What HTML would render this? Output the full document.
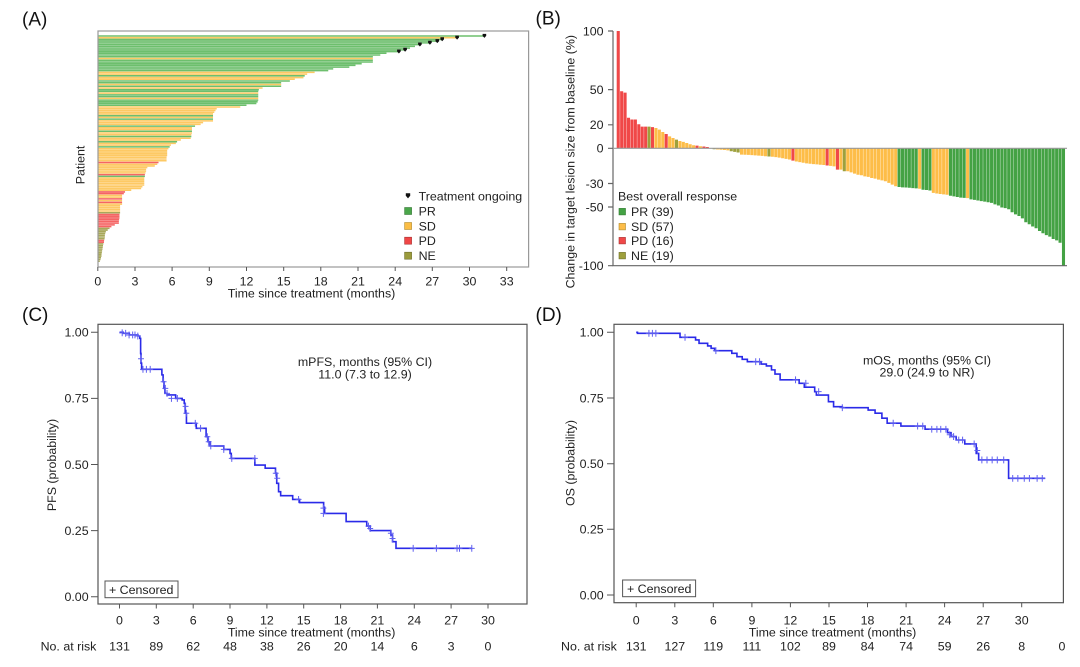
<!DOCTYPE html>
<html><head><meta charset="utf-8"><style>
html,body{margin:0;padding:0;background:#fff;}
svg{display:block;font-family:"Liberation Sans",Arial,sans-serif;}
text{fill:#222;font-size:12.4px;}
.pl{font-size:19px;fill:#111;}
</style></head><body>
<svg width="1080" height="667" viewBox="0 0 1080 667" xmlns="http://www.w3.org/2000/svg">
<rect width="1080" height="667" fill="#fff"/>

<!-- ================= PANEL A ================= -->
<text class="pl" x="22" y="25.5">(A)</text>
<g transform="translate(97.8,35.2) scale(12.39,1.733)">
<path fill="#6dbf6d" d="M0 0h31.2v.88H0zM0 2h27.8v.88H0zM0 3h27.4v.88H0zM0 4h26.8v.88H0zM0 5h26v.88H0zM0 6h25.6v.88H0zM0 7h25.2v.88H0zM0 8h24.8v.88H0zM0 9h24.3v.88H0zM0 10h23.3v.88H0zM0 11h22.8v.88H0zM0 12h22.2v.88H0zM0 14h22.2v.88H0zM0 15h22.2v.88H0zM0 16h21.3v.88H0zM0 17h20.8v.88H0zM0 18h20.3v.88H0zM0 19h19v.88H0zM0 20h18.6v.88H0zM0 23h16.7v.88H0zM0 26h15.5v.88H0zM0 27h14.8v.88H0zM0 29h14.8v.88H0zM0 31h13v.88H0zM0 32h12.95v.88H0zM0 34h12.95v.88H0zM0 35h12.95v.88H0zM0 37h12.95v.88H0zM0 38h12.9v.88H0zM0 39h12.8v.88H0zM0 40h12v.88H0zM0 46h9.3v.88H0zM0 48h9.3v.88H0zM0 52h7.85v.88H0zM0 55h7.6v.88H0zM0 58h7.55v.88H0zM0 61h6.4v.88H0zM0 64h5.8v.88H0zM0 81h3.8v.88H0z"/>
<path fill="#fdc964" d="M0 1h29v.88H0zM0 13h22.2v.88H0zM0 21h17.5v.88H0zM0 22h16.9v.88H0zM0 24h16.6v.88H0zM0 25h15.9v.88H0zM0 28h14.8v.88H0zM0 30h13.3v.88H0zM0 33h12.95v.88H0zM0 36h12.95v.88H0zM0 41h11.5v.88H0zM0 42h9.6v.88H0zM0 43h9.5v.88H0zM0 44h9.4v.88H0zM0 45h9.3v.88H0zM0 47h9.3v.88H0zM0 49h9.3v.88H0zM0 50h8.5v.88H0zM0 51h8.3v.88H0zM0 53h7.6v.88H0zM0 54h7.6v.88H0zM0 56h7.6v.88H0zM0 57h7.55v.88H0zM0 59h7.5v.88H0zM0 60h6.7v.88H0zM0 62h6.3v.88H0zM0 63h5.9v.88H0zM0 65h5.7v.88H0zM0 66h5.6v.88H0zM0 67h5.6v.88H0zM0 68h5.6v.88H0zM0 69h5.6v.88H0zM0 70h5.55v.88H0zM0 71h5.55v.88H0zM0 72h5.55v.88H0zM0 74h4.8v.88H0zM0 75h4.6v.88H0zM0 76h4v.88H0zM0 77h3.9v.88H0zM0 78h3.9v.88H0zM0 79h3.85v.88H0zM0 82h3.75v.88H0zM0 83h3.75v.88H0zM0 84h3.75v.88H0zM0 85h3.75v.88H0zM0 86h3.75v.88H0zM0 87h3.6v.88H0zM0 88h3.5v.88H0zM0 89h2.7v.88H0zM0 92h1.96v.88H0zM0 93h1.96v.88H0zM0 95h1.96v.88H0zM0 97h1.96v.88H0zM0 98h1.8v.88H0zM0 99h1.8v.88H0zM0 100h1.8v.88H0zM0 101h1.8v.88H0z"/>
<path fill="#f56565" d="M0 73h4.9v.88H0zM0 80h3.8v.88H0zM0 90h2.2v.88H0zM0 91h2.1v.88H0zM0 94h1.96v.88H0zM0 96h1.96v.88H0zM0 103h1.75v.88H0zM0 104h1.75v.88H0zM0 105h1.75v.88H0zM0 106h1.72v.88H0zM0 107h1.7v.88H0zM0 108h1.7v.88H0zM0 109h1.37v.88H0zM0 110h1.1v.88H0zM0 118h.51v.88H0zM0 119h.5v.88H0z"/>
<path fill="#a8a85a" d="M0 102h1.8v.88H0zM0 111h.95v.88H0zM0 112h.8v.88H0zM0 113h.65v.88H0zM0 114h.6v.88H0zM0 115h.57v.88H0zM0 116h.57v.88H0zM0 117h.55v.88H0zM0 120h.45v.88H0zM0 121h.42v.88H0zM0 122h.4v.88H0zM0 123h.38v.88H0zM0 124h.35v.88H0zM0 125h.33v.88H0zM0 126h.3v.88H0zM0 127h.3v.88H0zM0 128h.26v.88H0zM0 129h.22v.88H0zM0 130h.16v.88H0z"/>
</g>
<!-- ongoing markers -->
<g fill="#111">
<path d="M-1.8,-2.2h3.6v2l-1.8,2l-1.8,-2z" transform="translate(484.4,36.1)"/>
<path d="M-1.8,-2.2h3.6v2l-1.8,2l-1.8,-2z" transform="translate(457.1,37.8)"/>
<path d="M-1.8,-2.2h3.6v2l-1.8,2l-1.8,-2z" transform="translate(442.2,39.5)"/>
<path d="M-1.8,-2.2h3.6v2l-1.8,2l-1.8,-2z" transform="translate(437.3,41.3)"/>
<path d="M-1.8,-2.2h3.6v2l-1.8,2l-1.8,-2z" transform="translate(429.9,43.0)"/>
<path d="M-1.8,-2.2h3.6v2l-1.8,2l-1.8,-2z" transform="translate(419.9,44.7)"/>
<path d="M-1.8,-2.2h3.6v2l-1.8,2l-1.8,-2z" transform="translate(405.1,49.9)"/>
<path d="M-1.8,-2.2h3.6v2l-1.8,2l-1.8,-2z" transform="translate(398.9,51.7)"/>
</g>
<rect x="98" y="31" width="430.6" height="236" fill="none" stroke="#999" stroke-width="1.2"/>
<g stroke="#555" stroke-width="1">
<path d="M97.8 267v4M135 267v4M172.1 267v4M209.3 267v4M246.5 267v4M283.7 267v4M320.8 267v4M358 267v4M395.2 267v4M432.3 267v4M469.5 267v4M506.7 267v4"/>
</g>
<g text-anchor="middle">
<text x="97.8" y="285.5">0</text><text x="135" y="285.5">3</text><text x="172.1" y="285.5">6</text><text x="209.3" y="285.5">9</text><text x="246.5" y="285.5">12</text><text x="283.7" y="285.5">15</text><text x="320.8" y="285.5">18</text><text x="358" y="285.5">21</text><text x="395.2" y="285.5">24</text><text x="432.3" y="285.5">27</text><text x="469.5" y="285.5">30</text><text x="506.7" y="285.5">33</text>
<text x="311.5" y="297.5">Time since treatment (months)</text>
<text transform="translate(84.4,165) rotate(-90)">Patient</text>
</g>
<!-- legend A -->
<path d="M-2.2,-2.8h4.4v2.6l-2.2,2.6l-2.2,-2.6z" fill="#111" transform="translate(408,196)"/>
<text x="418.6" y="200.4">Treatment ongoing</text>
<rect x="404.6" y="207.5" width="7" height="7" fill="#4aa64a" stroke="#3a7a3a" stroke-width=".6"/>
<rect x="404.6" y="222.5" width="7" height="7" fill="#fbbd45" stroke="#b08a30" stroke-width=".6"/>
<rect x="404.6" y="237.2" width="7" height="7" fill="#f04646" stroke="#a83232" stroke-width=".6"/>
<rect x="404.6" y="252.2" width="7" height="7" fill="#9b9b3c" stroke="#6e6e2a" stroke-width=".6"/>
<text x="418.6" y="215.4">PR</text>
<text x="418.6" y="230.4">SD</text>
<text x="418.6" y="245.1">PD</text>
<text x="418.6" y="260.1">NE</text>

<!-- ================= PANEL B ================= -->
<text class="pl" x="535.5" y="24.5">(B)</text>
<g transform="translate(616.7,148.3) scale(3.425,-1.173)">
<path fill="#f04848" d="M0 0h.9v100h-.9zM1 0h.9v48.6h-.9zM2 0h.9v47.5h-.9zM3 0h.9v26h-.9zM4 0h.9v24.5h-.9zM5 0h.9v24.5h-.9zM6 0h.9v20.5h-.9zM7 0h.9v18.5h-.9zM8 0h.9v18.5h-.9zM10 0h.9v18h-.9zM14 0h.9v12.2h-.9zM23 0h.9v2.3h-.9zM25 0h.9v1.5h-.9zM26 0h.9v1.1h-.9zM51 0h.9v-10.5h-.9zM61 0h.9v-14.7h-.9zM64 0h.9v-18.2h-.9z"/>
<path fill="#9ea03c" d="M9 0h.9v18.5h-.9zM17 0h.9v7.4h-.9zM28 0h.9v-.8h-.9zM33 0h.9v-2.5h-.9zM34 0h.9v-3h-.9zM35 0h.9v-3.6h-.9zM44 0h.9v-7h-.9zM66 0h.9v-19.6h-.9z"/>
<path fill="#fdbd48" d="M11 0h.9v17.3h-.9zM12 0h.9v15.9h-.9zM13 0h.9v13.9h-.9zM15 0h.9v10.2h-.9zM16 0h.9v8.8h-.9zM18 0h.9v6.2h-.9zM19 0h.9v5.5h-.9zM20 0h.9v4.5h-.9zM21 0h.9v3.5h-.9zM22 0h.9v2.6h-.9zM24 0h.9v1.8h-.9zM27 0h.9v.3h-.9zM29 0h.9v-1h-.9zM30 0h.9v-1.2h-.9zM31 0h.9v-1.5h-.9zM32 0h.9v-1.8h-.9zM36 0h.9v-5.4h-.9zM37 0h.9v-5.5h-.9zM38 0h.9v-5.6h-.9zM39 0h.9v-5.8h-.9zM40 0h.9v-6h-.9zM41 0h.9v-6.2h-.9zM42 0h.9v-6.5h-.9zM43 0h.9v-6.8h-.9zM45 0h.9v-7.2h-.9zM46 0h.9v-7.5h-.9zM47 0h.9v-8h-.9zM48 0h.9v-8.5h-.9zM49 0h.9v-9h-.9zM50 0h.9v-9.5h-.9zM52 0h.9v-11.2h-.9zM53 0h.9v-11.8h-.9zM54 0h.9v-12.3h-.9zM55 0h.9v-12.8h-.9zM56 0h.9v-13.2h-.9zM57 0h.9v-13.5h-.9zM58 0h.9v-13.7h-.9zM59 0h.9v-14h-.9zM60 0h.9v-14.2h-.9zM62 0h.9v-15h-.9zM63 0h.9v-15.4h-.9zM65 0h.9v-18.2h-.9zM67 0h.9v-19.6h-.9zM68 0h.9v-20.5h-.9zM69 0h.9v-21.6h-.9zM70 0h.9v-22.5h-.9zM71 0h.9v-23h-.9zM72 0h.9v-23.9h-.9zM73 0h.9v-24.4h-.9zM74 0h.9v-25.3h-.9zM75 0h.9v-25.9h-.9zM76 0h.9v-26.7h-.9zM77 0h.9v-27.3h-.9zM78 0h.9v-28.1h-.9zM79 0h.9v-29.5h-.9zM80 0h.9v-31h-.9zM81 0h.9v-32.4h-.9zM88 0h.9v-34.5h-.9zM92 0h.9v-38h-.9zM93 0h.9v-38.5h-.9zM94 0h.9v-39h-.9zM95 0h.9v-39.3h-.9zM96 0h.9v-39.6h-.9zM102 0h.9v-42.5h-.9z"/>
<path fill="#44a244" d="M82 0h.9v-33h-.9zM83 0h.9v-33.3h-.9zM84 0h.9v-33.4h-.9zM85 0h.9v-33.6h-.9zM86 0h.9v-33.9h-.9zM87 0h.9v-34.2h-.9zM89 0h.9v-35.3h-.9zM90 0h.9v-35.6h-.9zM91 0h.9v-36h-.9zM97 0h.9v-40.5h-.9zM98 0h.9v-41h-.9zM99 0h.9v-41.5h-.9zM100 0h.9v-42h-.9zM101 0h.9v-42.3h-.9zM103 0h.9v-43.5h-.9zM104 0h.9v-44h-.9zM105 0h.9v-44.5h-.9zM106 0h.9v-45h-.9zM107 0h.9v-45.5h-.9zM108 0h.9v-46h-.9zM109 0h.9v-46.5h-.9zM110 0h.9v-47.8h-.9zM111 0h.9v-48.8h-.9zM112 0h.9v-50.5h-.9zM113 0h.9v-51h-.9zM114 0h.9v-52h-.9zM115 0h.9v-54.5h-.9zM116 0h.9v-56.3h-.9zM117 0h.9v-57.7h-.9zM118 0h.9v-59.7h-.9zM119 0h.9v-63h-.9zM120 0h.9v-64.7h-.9zM121 0h.9v-66.7h-.9zM122 0h.9v-68.2h-.9zM123 0h.9v-70.5h-.9zM124 0h.9v-72.4h-.9zM125 0h.9v-74h-.9zM126 0h.9v-75.3h-.9zM127 0h.9v-77.3h-.9zM128 0h.9v-78.5h-.9zM129 0h.9v-80.5h-.9zM130 0h.9v-100h-.9z"/>
</g>
<g stroke="#666" stroke-width="1.2" fill="none">
<path d="M613 31v234.7H1067"/>
<path d="M613 148.3H1067" stroke="#999"/>
<path d="M608 31h5M608 89.6h5M608 124.8h5M608 148.3h5M608 183.5h5M608 207h5M608 265.7h5"/>
</g>
<g text-anchor="end">
<text x="603.5" y="35.4">100</text>
<text x="603.5" y="94">50</text>
<text x="603.5" y="129.2">20</text>
<text x="603.5" y="152.7">0</text>
<text x="603.5" y="187.9">-30</text>
<text x="603.5" y="211.4">-50</text>
<text x="603.5" y="270.1">-100</text>
</g>
<text transform="translate(574.7,161.7) rotate(-90)" text-anchor="middle">Change in target lesion size from baseline (%)</text>
<!-- legend B -->
<text x="618" y="200.4">Best overall response</text>
<rect x="619" y="208.4" width="6.5" height="6.5" fill="#44a244" stroke="#2f7a2f" stroke-width=".6"/>
<rect x="619" y="223.4" width="6.5" height="6.5" fill="#fdbd48" stroke="#b08a30" stroke-width=".6"/>
<rect x="619" y="237.4" width="6.5" height="6.5" fill="#f04848" stroke="#a83232" stroke-width=".6"/>
<rect x="619" y="252.4" width="6.5" height="6.5" fill="#9ea03c" stroke="#6e6e2a" stroke-width=".6"/>
<text x="631" y="216">PR (39)</text>
<text x="631" y="231">SD (57)</text>
<text x="631" y="245">PD (16)</text>
<text x="631" y="260">NE (19)</text>

<!-- ================= PANEL C ================= -->
<text class="pl" x="22" y="321">(C)</text>
<rect x="98" y="324.3" width="429" height="279.7" fill="none" stroke="#555" stroke-width="1.2"/>
<g stroke="#555" stroke-width="1">
<path d="M91 332.3h7M91 398.4h7M91 464.5h7M91 530.6h7M91 596.7h7"/>
<path d="M119.5 604v4.5M156.3 604v4.5M193.2 604v4.5M230 604v4.5M266.9 604v4.5M303.7 604v4.5M340.6 604v4.5M377.4 604v4.5M414.3 604v4.5M451.1 604v4.5M488 604v4.5"/>
</g>
<g text-anchor="end">
<text x="88.6" y="336.6">1.00</text>
<text x="88.6" y="402.7">0.75</text>
<text x="88.6" y="468.8">0.50</text>
<text x="88.6" y="534.9">0.25</text>
<text x="88.6" y="601">0.00</text>
</g>
<text transform="translate(56,465) rotate(-90)" text-anchor="middle">PFS (probability)</text>
<g transform="translate(119.5,596.7) scale(12.283,-264.4)" fill="none">
<path stroke="#2a2ae8" stroke-width="1.6" vector-effect="non-scaling-stroke" d="M0,1H0.3V0.996H0.8V0.99H1.5V0.986H1.65V0.977H1.72V0.92H1.75V0.883H1.8V0.86H3.45V0.839H3.55V0.813H3.62V0.788H3.7V0.769H3.87V0.763H4.57V0.75H5.1V0.744H5.27V0.731H5.35V0.694H5.45V0.656H6.25V0.637H7.05V0.605H7.2V0.586H7.37V0.57H8.49V0.557H9.0V0.542H9.1V0.523H11.02V0.498H11.86V0.486H12.7V0.467H12.8V0.429H12.95V0.397H13.12V0.382H14.1V0.368H14.66V0.356H16.62V0.338H16.7V0.315H18.45V0.284H20.13V0.267H20.41V0.25H22.09V0.233H22.23V0.208H22.51V0.183H28.68"/>
<path stroke="#6060f0" stroke-width="1" vector-effect="non-scaling-stroke" d="M-.02,.998h.48M.22,.985v.026M.26,.996h.48M.5,.983v.026M.54,.99h.48M.78,.977v.026M.83,.99h.48M1.07,.977v.026M1.02,.99h.48M1.26,.977v.026M1.25,.986h.48M1.49,.973v.026M1.51,.9h.48M1.75,.887v.026M1.67,.86h.48M1.91,.847v.026M1.95,.86h.48M2.19,.847v.026M2.26,.86h.48M2.5,.847v.026M3.35,.813h.48M3.59,.8v.026M3.49,.788h.48M3.73,.775v.026M3.63,.769h.48M3.87,.756v.026M3.99,.75h.48M4.23,.737v.026M4.47,.75h.48M4.71,.737v.026M5.14,.72h.48M5.38,.707v.026M5.2,.694h.48M5.44,.681v.026M5.93,.656h.48M6.17,.643v.026M6.36,.637h.48M6.6,.624v.026M6.91,.605h.48M7.15,.592v.026M7.02,.586h.48M7.26,.573v.026M7.19,.57h.48M7.43,.557v.026M8.25,.557h.48M8.49,.544v.026M8.9,.523h.48M9.14,.51v.026M10.78,.523h.48M11.02,.51v.026M12.48,.467h.48M12.72,.454v.026M12.6,.448h.48M12.84,.435v.026M14.34,.368h.48M14.58,.355v.026M16.36,.335h.48M16.6,.322v.026M16.36,.315h.48M16.6,.302v.026M20.03,.267h.48M20.27,.254v.026M20.17,.258h.48M20.41,.245v.026M21.85,.24h.48M22.09,.227v.026M21.99,.22h.48M22.23,.207v.026M23.67,.183h.48M23.91,.17v.026M25.56,.183h.48M25.8,.17v.026M27.24,.183h.48M27.48,.17v.026M27.44,.183h.48M27.68,.17v.026M28.44,.183h.48M28.68,.17v.026"/>
</g>
<text x="365" y="366" text-anchor="middle">mPFS, months (95% CI)</text>
<text x="365" y="378.4" text-anchor="middle">11.0 (7.3 to 12.9)</text>
<rect x="105" y="581" width="73" height="16.7" fill="#fff" stroke="#555" stroke-width="1"/>
<text x="109" y="594">+ Censored</text>
<g text-anchor="middle">
<text x="119.5" y="624.5">0</text><text x="156.3" y="624.5">3</text><text x="193.2" y="624.5">6</text><text x="230" y="624.5">9</text><text x="266.9" y="624.5">12</text><text x="303.7" y="624.5">15</text><text x="340.6" y="624.5">18</text><text x="377.4" y="624.5">21</text><text x="414.3" y="624.5">24</text><text x="451.1" y="624.5">27</text><text x="488" y="624.5">30</text>
<text x="311.6" y="636.5">Time since treatment (months)</text>
<text x="119.5" y="650.5">131</text><text x="156.3" y="650.5">89</text><text x="193.2" y="650.5">62</text><text x="230" y="650.5">48</text><text x="266.9" y="650.5">38</text><text x="303.7" y="650.5">26</text><text x="340.6" y="650.5">20</text><text x="377.4" y="650.5">14</text><text x="414.3" y="650.5">6</text><text x="451.1" y="650.5">3</text><text x="488" y="650.5">0</text>
</g>
<text x="40.6" y="650.5">No. at risk</text>

<!-- ================= PANEL D ================= -->
<text class="pl" x="535.5" y="321">(D)</text>
<rect x="614" y="324.3" width="449.4" height="278.4" fill="none" stroke="#555" stroke-width="1.2"/>
<g stroke="#555" stroke-width="1">
<path d="M607 332.3h7M607 398h7M607 463.7h7M607 529.3h7M607 595h7"/>
<path d="M636.2 602.7v4.5M674.8 602.7v4.5M713.3 602.7v4.5M751.9 602.7v4.5M790.4 602.7v4.5M829 602.7v4.5M867.5 602.7v4.5M906.1 602.7v4.5M944.6 602.7v4.5M983.2 602.7v4.5M1021.7 602.7v4.5"/>
</g>
<g text-anchor="end">
<text x="603.7" y="336.6">1.00</text>
<text x="603.7" y="402.3">0.75</text>
<text x="603.7" y="468">0.50</text>
<text x="603.7" y="533.6">0.25</text>
<text x="603.7" y="599.3">0.00</text>
</g>
<text transform="translate(574.4,463) rotate(-90)" text-anchor="middle">OS (probability)</text>
<g transform="translate(636.2,595) scale(12.85,-262.7)" fill="none">
<path stroke="#2a2ae8" stroke-width="1.6" vector-effect="non-scaling-stroke" d="M0,1H0.1V0.996H3.41V0.981H4.62V0.971H4.89V0.958H5.56V0.948H5.83V0.939H6.1V0.93H7.44V0.92H7.84V0.907H8.25V0.897H8.65V0.888H9.72V0.879H10.13V0.872H10.53V0.857H10.8V0.841H11.2V0.819H12.68V0.806H13.08V0.791H13.89V0.774H14.02V0.761H14.96V0.736H15.36V0.717H16.04V0.713H18.05V0.704H18.59V0.692H19.12V0.673H19.53V0.654H20.6V0.643H22.48V0.631H24.23V0.618H24.5V0.603H24.9V0.59H25.57V0.575H26.46V0.539H26.65V0.514H28.98V0.444H31.83"/>
<path stroke="#6060f0" stroke-width="1" vector-effect="non-scaling-stroke" d="M.75,.996h.46M.99,.983v.026M1.02,.996h.46M1.26,.983v.026M1.29,.996h.46M1.53,.983v.026M3.57,.981h.46M3.8,.968v.026M5.97,.93h.46M6.2,.917v.026M9.07,.888h.46M9.3,.875v.026M9.37,.888h.46M9.6,.875v.026M12.17,.819h.46M12.4,.806v.026M12.97,.806h.46M13.2,.793v.026M13.97,.774h.46M14.2,.761v.026M15.81,.713h.46M16.04,.7v.026M19.77,.654h.46M20,.641v.026M21.67,.643h.46M21.9,.63v.026M22.07,.643h.46M22.3,.63v.026M22.77,.631h.46M23,.618v.026M23.17,.631h.46M23.4,.618v.026M23.47,.631h.46M23.7,.618v.026M23.87,.631h.46M24.1,.618v.026M24.17,.61h.46M24.4,.597v.026M24.47,.603h.46M24.7,.59v.026M24.87,.59h.46M25.1,.577v.026M25.17,.59h.46M25.4,.577v.026M26.07,.575h.46M26.3,.562v.026M26.32,.55h.46M26.55,.537v.026M26.67,.514h.46M26.9,.501v.026M27.07,.514h.46M27.3,.501v.026M27.47,.514h.46M27.7,.501v.026M27.87,.514h.46M28.1,.501v.026M28.37,.514h.46M28.6,.501v.026M29.07,.444h.46M29.3,.431v.026M29.47,.444h.46M29.7,.431v.026M29.97,.444h.46M30.2,.431v.026M30.37,.444h.46M30.6,.431v.026M30.97,.444h.46M31.2,.431v.026M31.37,.444h.46M31.6,.431v.026"/>
</g>
<text x="927" y="364.4" text-anchor="middle">mOS, months (95% CI)</text>
<text x="927" y="376.4" text-anchor="middle">29.0 (24.9 to NR)</text>
<rect x="622.6" y="580" width="73" height="16.7" fill="#fff" stroke="#555" stroke-width="1"/>
<text x="627" y="593">+ Censored</text>
<g text-anchor="middle">
<text x="636.2" y="624.5">0</text><text x="674.8" y="624.5">3</text><text x="713.3" y="624.5">6</text><text x="751.9" y="624.5">9</text><text x="790.4" y="624.5">12</text><text x="829" y="624.5">15</text><text x="867.5" y="624.5">18</text><text x="906.1" y="624.5">21</text><text x="944.6" y="624.5">24</text><text x="983.2" y="624.5">27</text><text x="1021.7" y="624.5">30</text>
<text x="832.5" y="636.3">Time since treatment (months)</text>
<text x="636.2" y="650.5">131</text><text x="674.8" y="650.5">127</text><text x="713.3" y="650.5">119</text><text x="751.9" y="650.5">111</text><text x="790.4" y="650.5">102</text><text x="829" y="650.5">89</text><text x="867.5" y="650.5">84</text><text x="906.1" y="650.5">74</text><text x="944.6" y="650.5">59</text><text x="983.2" y="650.5">26</text><text x="1021.7" y="650.5">8</text><text x="1062" y="650.5">0</text>
</g>
<text x="561" y="650.5">No. at risk</text>
</svg>
</body></html>
